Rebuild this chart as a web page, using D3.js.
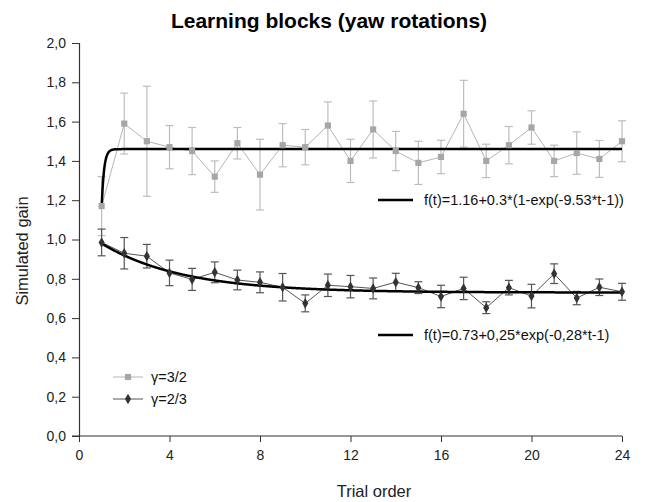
<!DOCTYPE html>
<html><head><meta charset="utf-8">
<script src="https://cdn.jsdelivr.net/npm/d3@7"></script>
<style>body{margin:0;background:#fff}svg{display:block;font-family:"Liberation Sans",Arial,sans-serif}</style>
</head><body>
<svg id="c" width="647" height="502"></svg>
<script>
const trials = d3.range(1, 25);
const gainHigh = [1.17,1.59,1.50,1.47,1.45,1.32,1.49,1.33,1.48,1.47,1.58,1.40,1.56,1.45,1.39,1.42,1.64,1.40,1.48,1.57,1.40,1.44,1.41,1.50];
const errHigh  = [0.15,0.155,0.28,0.11,0.12,0.08,0.08,0.18,0.11,0.09,0.12,0.11,0.145,0.10,0.11,0.085,0.17,0.085,0.095,0.085,0.08,0.108,0.094,0.104];
const gainLow  = [0.985,0.93,0.915,0.83,0.797,0.833,0.794,0.782,0.757,0.675,0.767,0.76,0.751,0.783,0.755,0.71,0.751,0.653,0.755,0.712,0.826,0.702,0.757,0.734];
const errLow   = [0.068,0.08,0.06,0.065,0.056,0.053,0.05,0.053,0.07,0.043,0.057,0.057,0.053,0.045,0.03,0.057,0.057,0.03,0.037,0.06,0.05,0.034,0.042,0.043];
const xTicks = [0,4,8,12,16,20,24];
const yTicks = [0,0.2,0.4,0.6,0.8,1.0,1.2,1.4,1.6,1.8,2.0];
const seriesNames = ["\u03b3=3/2","\u03b3=2/3"];
const fitLabels = ["f(t)=1.16+0.3*(1-exp(-9.53*t-1))","f(t)=0.73+0,25*exp(-0,28*t-1)"];
const fitHigh = t => 1.16 + 0.3*(1 - Math.exp(-9.53*(t-1)));
const fitLow  = t => 0.73 + 0.25*Math.exp(-0.28*(t-1));

const svg = d3.select("#c");
const L = 79, R = 622, T = 43, B = 436;
const x = d3.scaleLinear().domain([0,24]).range([L,R]);
const y = d3.scaleLinear().domain([0,2]).range([B,T]);
const fmt = d => d.toFixed(1).replace(".", ",");

// axes
const gx = svg.append("g").attr("transform",`translate(0,${B})`)
  .call(d3.axisBottom(x).tickValues(xTicks).tickSize(6).tickPadding(8).tickFormat(d3.format("d")));
const gy = svg.append("g").attr("transform",`translate(${L},0)`)
  .call(d3.axisLeft(y).tickValues(yTicks).tickSize(7).tickPadding(6).tickFormat(fmt));
[gx,gy].forEach(g=>{
  g.select(".domain").attr("stroke","#333").attr("stroke-width",1.2);
  g.selectAll(".tick line").attr("stroke","#333");
  g.selectAll(".tick text").attr("fill","#222").style("font-size","14px").style("font-family","Liberation Sans, Arial, sans-serif");
});
gx.select(".domain").attr("d",`M${L},0H${R}`);
gx.append("line").attr("x1",L-7).attr("x2",L).attr("y1",0).attr("y2",0).attr("stroke","#333");

const series = [
  {v:gainHigh, e:errHigh, line:"#b5b5b5", bar:"#bdbdbd", mark:"#a6a6a6", shape:"square"},
  {v:gainLow,  e:errLow,  line:"#555", bar:"#555", mark:"#333", shape:"diamond"}
];
const sq = d3.symbol().type(d3.symbolSquare).size(38);
const dm = d3.symbol().type(d3.symbolDiamond).size(32);

series.forEach(s=>{
  const g = svg.append("g");
  trials.forEach((t,i)=>{
    const xi = x(t), y1 = y(s.v[i]+s.e[i]), y0 = y(s.v[i]-s.e[i]);
    g.append("line").attr("x1",xi).attr("x2",xi).attr("y1",y1).attr("y2",y0).attr("stroke",s.bar).attr("stroke-width",1.2);
    [y1,y0].forEach(yy=>g.append("line").attr("x1",xi-4).attr("x2",xi+4).attr("y1",yy).attr("y2",yy).attr("stroke",s.bar).attr("stroke-width",1.2));
  });
  g.append("path").datum(trials).attr("fill","none").attr("stroke",s.line).attr("stroke-width",1)
    .attr("d",d3.line().x(t=>x(t)).y((t,i)=>y(s.v[i])));
});

// fit curves
const fine = d3.range(1, 24.001, 0.02);
svg.append("path").datum(fine).attr("fill","none").attr("stroke","#000").attr("stroke-width",2.5)
  .attr("d",d3.line().x(t=>x(t)).y(t=>y(fitHigh(t))));
svg.append("path").datum(fine).attr("fill","none").attr("stroke","#000").attr("stroke-width",2.5)
  .attr("d",d3.line().x(t=>x(t)).y(t=>y(fitLow(t))));

series.forEach(s=>{
  svg.append("g").selectAll("path").data(trials).join("path")
    .attr("transform",(t,i)=>`translate(${x(t)},${y(s.v[i])})`)
    .attr("d", s.shape==="square"?sq:dm).attr("fill",s.mark);
});

// fit legends
const fitY = [200, 335];
fitLabels.forEach((lab,i)=>{
  svg.append("line").attr("x1",378).attr("x2",413).attr("y1",fitY[i]).attr("y2",fitY[i]).attr("stroke","#000").attr("stroke-width",2.5);
  svg.append("text").attr("x",424).attr("y",fitY[i]).attr("dy","0.35em").attr("fill","#111").style("font-size","14.5px").text(lab);
});

// series legend
const legY = [377, 399];
seriesNames.forEach((n,i)=>{
  const s = series[i];
  svg.append("line").attr("x1",113).attr("x2",143).attr("y1",legY[i]).attr("y2",legY[i]).attr("stroke",s.line).attr("stroke-width",1);
  svg.append("path").attr("transform",`translate(128,${legY[i]})`).attr("d",s.shape==="square"?sq:dm).attr("fill",s.mark);
  svg.append("text").attr("x",151).attr("y",legY[i]).attr("dy","0.35em").attr("fill","#111").style("font-size","14.5px").text(n);
});

// titles
svg.append("text").attr("x",329).attr("y",28).attr("text-anchor","middle").style("font-size","21px").style("font-weight","bold").attr("fill","#000").text("Learning blocks (yaw rotations)");
svg.append("text").attr("x",374).attr("y",497).attr("text-anchor","middle").style("font-size","16.5px").attr("fill","#222").text("Trial order");
svg.append("text").attr("transform","translate(28,251) rotate(-90)").attr("text-anchor","middle").style("font-size","16.5px").attr("fill","#222").text("Simulated gain");
</script>
</body></html>
